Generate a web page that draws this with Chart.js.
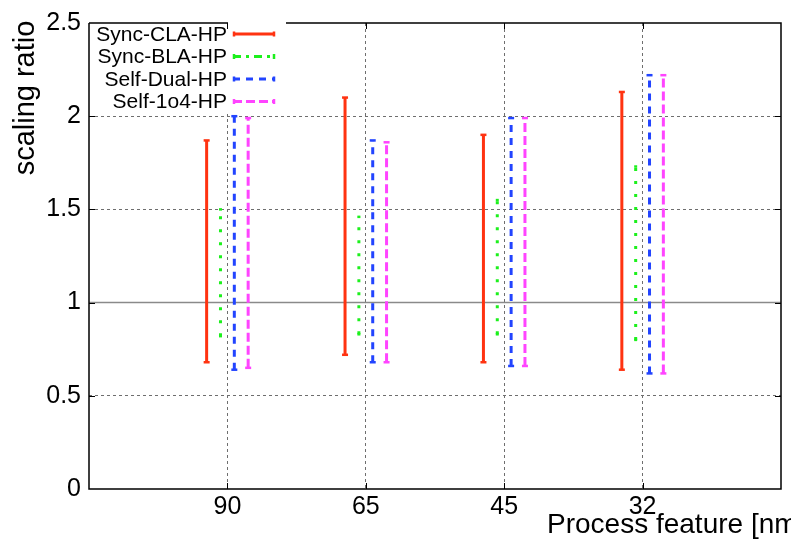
<!DOCTYPE html>
<html>
<head>
<meta charset="utf-8">
<script src="https://cdn.jsdelivr.net/npm/chart.js@4.4.0/dist/chart.umd.min.js"></script>
<style>
  html, body { margin: 0; padding: 0; background: #fff; }
  #wrap { width: 791px; height: 545px; position: relative; }
</style>
</head>
<body>
<div id="wrap"><canvas id="grafico"></canvas></div>
<script>
// nodos de proceso (nm) en el eje x
const categorias = ['90', '65', '45', '32'];
const yTicks = [0, 0.5, 1, 1.5, 2, 2.5];

// rango (min / max) del scaling ratio por nodo
const syncClaLow   = [0.68, 0.72, 0.68, 0.64];
const syncClaHigh  = [1.87, 2.10, 1.90, 2.13];
const syncBlaLow   = [0.82, 0.83, 0.83, 0.80];
const syncBlaHigh  = [1.50, 1.46, 1.55, 1.73];
const selfDualLow  = [0.64, 0.68, 0.66, 0.62];
const selfDualHigh = [2.00, 1.87, 1.99, 2.22];
const self1o4Low   = [0.65, 0.68, 0.66, 0.62];
const self1o4High  = [1.99, 1.86, 1.99, 2.22];

const FONT = '"Liberation Sans", Arial, Helvetica, sans-serif';

const series = [
    { label: 'Sync-CLA-HP',   low: syncClaLow,  high: syncClaHigh,  color: '#ff3311', dash: [],      keyDash: [],           offset: -0.15, cap: 3 },
    { label: 'Sync-BLA-HP',   low: syncBlaLow,  high: syncBlaHigh,  color: '#1cf01c', dash: [3, 10], keyDash: [8, 5, 3, 5], offset: -0.05, cap: 1.5 },
    { label: 'Self-Dual-HP',  low: selfDualLow, high: selfDualHigh, color: '#2244ff', dash: [7, 6],  keyDash: [7, 6],       offset: 0.05,  cap: 3 },
    { label: 'Self-1o4-HP',   low: self1o4Low,  high: self1o4High,  color: '#ff44ff', dash: [9, 4],  keyDash: [9, 4],       offset: 0.15,  cap: 3 }
];

// cada barra vertical = dos puntos (low, high) y un hueco
function rangePoints(low, high, offset) {
    const pts = [];
    low.forEach((lo, i) => {
        const x = i + 1 + offset;
        pts.push({ x: x, y: lo }, { x: x, y: high[i] }, { x: x, y: null });
    });
    return pts;
}

const datasets = series.map(s => ({
    label: s.label,
    data: rangePoints(s.low, s.high, s.offset),
    showLine: true,
    spanGaps: false,
    borderColor: s.color,
    borderWidth: 3,
    borderDash: s.dash,
    borderCapStyle: 'butt',
    pointStyle: 'line',
    pointRadius: s.cap,
    pointBorderWidth: 2.5,
    pointBorderColor: s.color,
    pointBackgroundColor: s.color,
    keyDash: s.keyDash
}));

const marco = {
    id: 'marco',
    beforeDatasetsDraw(chart) {
        // linea solida en 1
        const { ctx, chartArea: a, scales: { y } } = chart;
        const py = y.getPixelForValue(1);
        ctx.save();
        ctx.strokeStyle = '#8a8a8a';
        ctx.lineWidth = 1.5;
        ctx.beginPath();
        ctx.moveTo(a.left, py);
        ctx.lineTo(a.right, py);
        ctx.stroke();
        ctx.restore();
    },
    afterDraw(chart) {
        const { ctx, chartArea: a, scales: { x, y } } = chart;
        ctx.save();

        // caja opaca de la leyenda
        ctx.fillStyle = '#fff';
        ctx.fillRect(a.left + 1, a.top + 1, 286 - a.left, 90);

        // leyenda: texto a la derecha, muestra de linea despues
        ctx.font = '21px ' + FONT;
        ctx.textAlign = 'right';
        ctx.textBaseline = 'middle';
        chart.data.datasets.forEach((ds, i) => {
            const ly = 34 + i * 22.5;
            ctx.fillStyle = '#000';
            ctx.fillText(ds.label, 227, ly + 1);
            ctx.strokeStyle = ds.borderColor;
            ctx.lineWidth = 3;
            ctx.lineCap = 'butt';
            ctx.setLineDash(ds.keyDash);
            ctx.beginPath();
            ctx.moveTo(233, ly);
            ctx.lineTo(275, ly);
            ctx.stroke();
            ctx.setLineDash([]);
            ctx.lineWidth = 2.5;
            ctx.beginPath();
            ctx.moveTo(234, ly - 2.5); ctx.lineTo(234, ly + 2.5);
            ctx.moveTo(274, ly - 2.5); ctx.lineTo(274, ly + 2.5);
            ctx.stroke();
        });

        // marco
        ctx.strokeStyle = '#000';
        ctx.lineWidth = 1.5;
        ctx.beginPath();
        ctx.moveTo(a.left, a.top);
        ctx.lineTo(228, a.top);
        ctx.moveTo(286, a.top);
        ctx.lineTo(a.right, a.top);
        ctx.lineTo(a.right, a.bottom);
        ctx.lineTo(a.left, a.bottom);
        ctx.lineTo(a.left, a.top);
        ctx.stroke();

        // marcas hacia dentro
        ctx.lineWidth = 1;
        ctx.beginPath();
        categorias.forEach((c, i) => {
            const px = Math.round(x.getPixelForValue(i + 1)) + 0.5;
            ctx.moveTo(px, a.bottom); ctx.lineTo(px, a.bottom - 6);
            ctx.moveTo(px, a.top); ctx.lineTo(px, a.top + 6);
        });
        yTicks.slice(1, -1).forEach(v => {
            const py = Math.round(y.getPixelForValue(v)) + 0.5;
            ctx.moveTo(a.left, py); ctx.lineTo(a.left + 6, py);
            ctx.moveTo(a.right, py); ctx.lineTo(a.right - 6, py);
        });
        ctx.stroke();

        // titulos de ejes
        ctx.fillStyle = '#000';
        ctx.font = '28px ' + FONT;
        ctx.textAlign = 'left';
        ctx.textBaseline = 'alphabetic';
        ctx.fillText('Process feature [nm]', 547, 533);

        ctx.translate(26, 98);
        ctx.rotate(-Math.PI / 2);
        ctx.font = '29px ' + FONT;
        ctx.textAlign = 'center';
        ctx.textBaseline = 'middle';
        ctx.fillText('scaling ratio', 0, 0);
        ctx.restore();
    }
};

Chart.defaults.font.family = FONT;
Chart.defaults.color = '#000';

const ctx = document.getElementById('grafico').getContext('2d');
new Chart(ctx, {
    type: 'scatter',
    data: { datasets },
    plugins: [marco],
    options: {
        responsive: true,
        maintainAspectRatio: false,
        devicePixelRatio: 1,
        animation: false,
        layout: { padding: { top: 21, right: 10, left: 0, bottom: 0 } },
        plugins: {
            legend: { display: false },
            tooltip: { enabled: false }
        },
        scales: {
            x: {
                type: 'linear',
                min: 0,
                max: 5,
                afterBuildTicks: s => { s.ticks = categorias.map((c, i) => ({ value: i + 1 })); },
                afterFit: s => { s.height = 56; },
                ticks: {
                    font: { size: 25 },
                    padding: 3,
                    maxRotation: 0,
                    callback: v => categorias[v - 1]
                },
                grid: { color: '#6e6e6e', lineWidth: 1, drawTicks: false },
                border: { display: false, dash: [3, 3] }
            },
            y: {
                min: 0,
                max: 2.5,
                afterBuildTicks: s => { s.ticks = yTicks.map(v => ({ value: v })); },
                afterFit: s => { s.width = 89; },
                ticks: {
                    font: { size: 25 },
                    padding: 8,
                    callback: v => String(v)
                },
                grid: {
                    color: c => (c.tick && (c.tick.value === 0 || c.tick.value === 1 || c.tick.value === 2.5)) ? 'rgba(0,0,0,0)' : '#6e6e6e',
                    lineWidth: 1,
                    drawTicks: false
                },
                border: { display: false, dash: [3, 3] }
            }
        }
    }
});
</script>
</body>
</html>
